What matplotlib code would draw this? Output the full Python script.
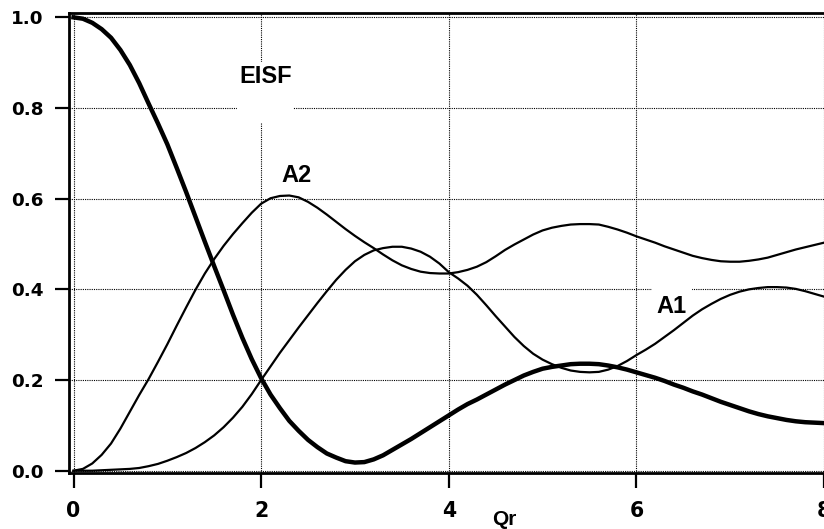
import numpy as np
import matplotlib
matplotlib.use("Agg")
import matplotlib.pyplot as plt
from matplotlib.patches import Rectangle

##############################################
###
### Data (every 0.1 in Qr)
###
qr = [round(0.1 * i, 1) for i in range(81)]

eisf = [1.000, 0.997, 0.988, 0.974, 0.955, 0.928, 0.895, 0.855, 0.810, 0.766,
        0.720, 0.668, 0.615, 0.560, 0.505, 0.451, 0.398, 0.344, 0.293, 0.246,
        0.204, 0.168, 0.138, 0.110, 0.088, 0.068, 0.052, 0.038, 0.029, 0.021,
        0.018, 0.019, 0.025, 0.034, 0.046, 0.058, 0.070, 0.083, 0.096, 0.109,
        0.122, 0.135, 0.147, 0.157, 0.168, 0.179, 0.190, 0.200, 0.210, 0.218,
        0.225, 0.229, 0.232, 0.235, 0.236, 0.236, 0.235, 0.232, 0.228, 0.223,
        0.217, 0.211, 0.205, 0.198, 0.190, 0.183, 0.175, 0.168, 0.160, 0.152,
        0.145, 0.138, 0.131, 0.125, 0.120, 0.116, 0.112, 0.109, 0.107, 0.106,
        0.105]

a2 = [0.000, 0.004, 0.016, 0.035, 0.060, 0.093, 0.130, 0.167, 0.202, 0.240,
      0.279, 0.320, 0.360, 0.399, 0.435, 0.467, 0.496, 0.522, 0.546, 0.569,
      0.589, 0.601, 0.606, 0.607, 0.603, 0.593, 0.580, 0.565, 0.549, 0.533,
      0.518, 0.504, 0.491, 0.477, 0.464, 0.453, 0.445, 0.439, 0.436, 0.435,
      0.435, 0.438, 0.443, 0.450, 0.460, 0.473, 0.487, 0.499, 0.510, 0.521,
      0.530, 0.536, 0.540, 0.543, 0.544, 0.544, 0.543, 0.538, 0.532, 0.525,
      0.517, 0.510, 0.503, 0.495, 0.488, 0.481, 0.474, 0.469, 0.465, 0.462,
      0.461, 0.461, 0.463, 0.466, 0.470, 0.476, 0.482, 0.488, 0.493, 0.498,
      0.503]

a1 = [0.000, 0.000, 0.000, 0.001, 0.002, 0.003, 0.004, 0.006, 0.010, 0.015,
      0.022, 0.030, 0.039, 0.050, 0.063, 0.078, 0.096, 0.117, 0.141, 0.169,
      0.200, 0.230, 0.260, 0.288, 0.316, 0.343, 0.370, 0.396, 0.421, 0.443,
      0.462, 0.476, 0.486, 0.491, 0.494, 0.494, 0.490, 0.483, 0.472, 0.457,
      0.438, 0.424, 0.408, 0.388, 0.365, 0.341, 0.318, 0.295, 0.275, 0.258,
      0.245, 0.235, 0.227, 0.221, 0.218, 0.217, 0.218, 0.223, 0.231, 0.242,
      0.255, 0.267, 0.280, 0.295, 0.310, 0.326, 0.342, 0.356, 0.368, 0.379,
      0.388, 0.395, 0.400, 0.403, 0.405, 0.405, 0.404, 0.401, 0.396, 0.390,
      0.384]

xticks = [0, 2, 4, 6, 8]
yticks = [0.0, 0.2, 0.4, 0.6, 0.8, 1.0]
###############################################

label_font = "Liberation Sans"
tick_font  = "DejaVu Sans"

###
### Figure and axes
###
fig = plt.figure(figsize=(8.24, 5.29), dpi=100)
ax  = fig.add_axes([0.0841, 0.1059, 0.9159, 0.869])
ax.set_xlim(-0.045, 8.0)
ax.set_ylim(-0.005, 1.009)

###
### Grid
###
ax.set_axisbelow(True)
ax.grid(True, color='black', linestyle=(0, (1, 1)), linewidth=0.8)

###
### White masks behind labels
###
ax.add_patch(Rectangle((1.74, 0.767), 0.60, 0.135,
                       facecolor='white', edgecolor='none', zorder=1))
ax.add_patch(Rectangle((6.17, 0.337), 0.42, 0.066,
                       facecolor='white', edgecolor='none', zorder=1))

###
### Curves
###
ax.plot(qr, eisf, color='black', linewidth=3.2, zorder=3)
ax.plot(qr, a2,   color='black', linewidth=1.6, zorder=2)
ax.plot(qr, a1,   color='black', linewidth=1.6, zorder=2)

###
### Curve labels
###
for txt, x, y in [("EISF", 2.05, 0.869), ("A2", 2.38, 0.652), ("A1", 6.37, 0.363)]:
    ax.text(x, y, txt, fontsize=17, fontweight='bold', family=label_font,
            ha='center', va='center', zorder=4)

###
### Axes, ticks
###
ax.spines['right'].set_visible(False)
for side in ['left', 'bottom', 'top']:
    ax.spines[side].set_linewidth(2.0)

ax.set_xticks(xticks)
ax.set_yticks(yticks)
ax.set_xticklabels([str(v) for v in xticks])
ax.set_yticklabels([f"{v:.1f}" for v in yticks])
ax.tick_params(axis='y', direction='out', length=10, width=1.6, pad=8.5,
               labelsize=13.2)
ax.tick_params(axis='x', direction='out', length=10.5, width=1.6, pad=9.5,
               labelsize=14.8)
for lab in ax.get_xticklabels() + ax.get_yticklabels():
    lab.set_fontweight('bold')
    lab.set_family(tick_font)

ax.set_xlabel("Qr", fontsize=15, fontweight='bold', family=label_font)
ax.xaxis.set_label_coords(0.576, -0.080)

###
### Output plot
###
fig.savefig("out.png", dpi=100)
